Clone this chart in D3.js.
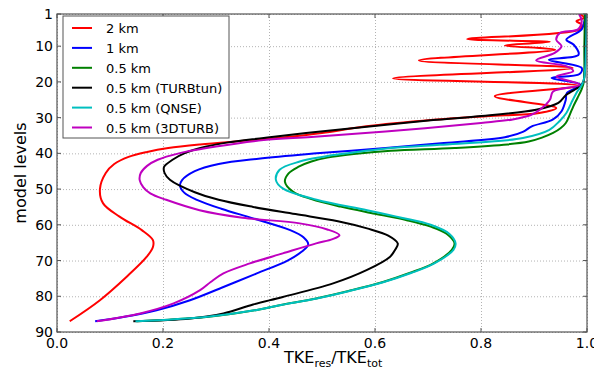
<!DOCTYPE html>
<html lang="en">
  <head>
    <meta charset="UTF-8" />
    <title>TKE ratio vs model level</title>
    <script src="https://d3js.org/d3.v7.min.js"></script>
    <style>
      body { margin: 0; background: #fff; }
      text { font-family: "DejaVu Sans", sans-serif; }
      .line { fill: none; stroke-width: 2px; stroke-linejoin: round; }
      .grid line { stroke: #a0a0a0; stroke-dasharray: 1,2; stroke-width: 0.8px; }
      .grid path { display: none; }
      .tick-lab { font-size: 14px; fill: #000; }
    </style>
  </head>
  <body>
    <svg id="chart" width="594" height="371"></svg>
    <script>
      // model level -> TKE_res/TKE_tot
      const lev2km = [1, 2, 3, 4, 5.3, 8, 8.8, 9.8, 11, 14, 16.1, 19, 21.1, 24, 27.3, 28.7, 29.6, 30.6, 32.5, 34.3, 35.5, 36.4, 37.5, 38.5, 39.6, 41, 43, 45.5, 50, 54, 57.7, 61.5, 64.3, 66.2, 69, 74.6, 81.1, 87];
      const tke2km = [0.985, 0.995, 0.98, 0.99, 0.986, 0.774, 0.93, 0.845, 0.94, 0.683, 0.973, 0.634, 0.986, 0.826, 0.942, 0.91, 0.81, 0.71, 0.58, 0.5, 0.43, 0.36, 0.27, 0.21, 0.17, 0.135, 0.108, 0.092, 0.081, 0.087, 0.118, 0.16, 0.181, 0.181, 0.169, 0.131, 0.081, 0.024];

      const lev1km = [1, 3, 5.3, 8.2, 9.6, 12.4, 13.8, 16.1, 17.8, 18.9, 20.8, 23.1, 25, 28.2, 30.5, 32.5, 33.9, 35.5, 37.1, 38.5, 40, 41.5, 43, 45, 47.5, 49, 51, 53, 55.5, 58.2, 61.5, 63.5, 65.5, 67.5, 70, 73.6, 77.4, 81.1, 83.9, 85.8, 87];
      const tke1km = [0.998, 0.995, 0.99, 0.961, 0.975, 0.984, 0.928, 0.99, 0.986, 0.933, 0.988, 0.962, 0.96, 0.952, 0.936, 0.895, 0.88, 0.845, 0.73, 0.62, 0.49, 0.38, 0.305, 0.26, 0.236, 0.232, 0.24, 0.264, 0.31, 0.37, 0.44, 0.465, 0.474, 0.462, 0.435, 0.377, 0.314, 0.251, 0.188, 0.125, 0.072];

      const lev05 = [1, 10, 20, 22, 24.5, 26.9, 29, 31.5, 33, 34.3, 35.6, 36.7, 37.5, 38.5, 39.3, 40.2, 41.2, 42.3, 43.8, 45.6, 47.9, 50.7, 52.8, 54.9, 56.9, 58.7, 60.5, 62.5, 65.2, 67, 70.8, 73.5, 76, 78.5, 80.6, 82.5, 84, 85.8, 87];
      const tke05 = [0.996, 0.995, 0.994, 0.99, 0.982, 0.974, 0.968, 0.96, 0.95, 0.936, 0.915, 0.89, 0.85, 0.75, 0.63, 0.56, 0.51, 0.48, 0.455, 0.437, 0.43, 0.445, 0.48, 0.535, 0.6, 0.66, 0.705, 0.735, 0.75, 0.745, 0.71, 0.665, 0.615, 0.55, 0.489, 0.42, 0.37, 0.282, 0.15];

      const levTurb = [1, 10, 20, 21.3, 23.6, 25.9, 27.8, 29.7, 30.7, 32.6, 34.3, 35.7, 37, 38.1, 40, 41.8, 43.8, 45.5, 47.4, 50.9, 53, 55, 57, 59, 61, 63, 65.2, 67, 69, 72.7, 76.4, 80.2, 82.3, 84.8, 86.2, 87];
      const tkeTurb = [0.998, 0.997, 0.993, 0.986, 0.961, 0.946, 0.904, 0.79, 0.71, 0.58, 0.47, 0.39, 0.32, 0.282, 0.24, 0.218, 0.202, 0.203, 0.213, 0.26, 0.305, 0.37, 0.45, 0.53, 0.585, 0.625, 0.643, 0.638, 0.628, 0.584, 0.521, 0.426, 0.37, 0.314, 0.251, 0.144];

      const levQnse = [1, 10, 20, 23.1, 26, 28.7, 31, 33.4, 35.7, 36.7, 37.6, 38.5, 39.9, 41, 42.3, 44.6, 47.4, 49.8, 53, 55.9, 58, 60, 62.5, 65.2, 67, 70.8, 73.5, 76, 78.5, 80.6, 82.5, 84, 85.8, 87];
      const tkeQnse = [0.999, 0.998, 0.993, 0.98, 0.97, 0.961, 0.948, 0.929, 0.879, 0.82, 0.722, 0.63, 0.552, 0.5, 0.458, 0.42, 0.413, 0.426, 0.49, 0.585, 0.65, 0.705, 0.74, 0.752, 0.748, 0.712, 0.668, 0.617, 0.552, 0.49, 0.42, 0.37, 0.28, 0.148];

      const lev3d = [1, 3, 5.3, 6.3, 8.2, 10, 11.9, 14, 15.6, 17, 18.5, 20.8, 22.7, 25, 27.8, 29.2, 30.5, 31.5, 33.9, 35.4, 36.3, 38.1, 40, 41.8, 43.5, 45.5, 47.5, 49.5, 51.2, 53, 55.9, 58, 59.6, 61.3, 62.9, 64, 65.2, 68, 70.8, 73.6, 76, 78.3, 82, 84.8, 87];
      const tke3d = [0.985, 0.99, 0.983, 0.949, 0.942, 0.952, 0.939, 0.904, 0.961, 0.974, 0.942, 0.986, 0.936, 0.93, 0.911, 0.895, 0.86, 0.8, 0.62, 0.48, 0.39, 0.3, 0.23, 0.19, 0.17, 0.158, 0.156, 0.163, 0.176, 0.206, 0.269, 0.35, 0.458, 0.51, 0.533, 0.52, 0.489, 0.426, 0.364, 0.314, 0.29, 0.27, 0.22, 0.157, 0.075];

      const seriesNames = ["2 km", "1 km", "0.5 km", "0.5 km (TURBtun)", "0.5 km (QNSE)", "0.5 km (3DTURB)"];
      const seriesColors = ["#ff0000", "#0000ff", "#008000", "#000000", "#00bfbf", "#bf00bf"];
      const seriesLevels = [lev2km, lev1km, lev05, levTurb, levQnse, lev3d];
      const seriesValues = [tke2km, tke1km, tke05, tkeTurb, tkeQnse, tke3d];

      const xTicks = [0, 0.2, 0.4, 0.6, 0.8, 1.0];
      const yTicks = [1, 10, 20, 30, 40, 50, 60, 70, 80, 90];

      const svg = d3.select("#chart"),
        width = +svg.attr("width"),
        height = +svg.attr("height"),
        margin = { top: 14, right: 7, bottom: 39, left: 57 },
        chartWidth = width - margin.left - margin.right,
        chartHeight = height - margin.top - margin.bottom;

      const chartArea = svg
        .append("g")
        .attr("transform", `translate(${margin.left},${margin.top})`);

      const xScale = d3.scaleLinear().domain([0, 1]).range([0, chartWidth]);
      const yScale = d3.scaleLinear().domain([1, 90]).range([0, chartHeight]);

      // dotted grid
      chartArea
        .append("g")
        .attr("class", "grid")
        .call(d3.axisBottom(xScale).tickValues(xTicks).tickSize(chartHeight).tickFormat(""));
      chartArea
        .append("g")
        .attr("class", "grid")
        .call(d3.axisLeft(yScale).tickValues(yTicks).tickSize(-chartWidth).tickFormat(""));

      svg
        .append("clipPath")
        .attr("id", "clip")
        .append("rect")
        .attr("width", chartWidth)
        .attr("height", chartHeight);

      const line = d3
        .line()
        .x((d) => xScale(d[1]))
        .y((d) => yScale(d[0]))
        .curve(d3.curveCatmullRom.alpha(0.5));

      const plot = chartArea.append("g").attr("clip-path", "url(#clip)");
      seriesNames.forEach((name, i) => {
        const pts = seriesLevels[i].map((l, j) => [l, seriesValues[i][j]]);
        plot
          .append("path")
          .datum(pts)
          .attr("class", "line")
          .attr("stroke", seriesColors[i])
          .attr("d", line);
      });

      // frame
      chartArea
        .append("rect")
        .attr("width", chartWidth)
        .attr("height", chartHeight)
        .attr("fill", "none")
        .attr("stroke", "#555")
        .attr("stroke-width", 1.2);

      // inward ticks on all sides
      const tickG = chartArea.append("g").attr("stroke", "#555").attr("stroke-width", 1);
      xTicks.forEach((t) => {
        tickG.append("line").attr("x1", xScale(t)).attr("x2", xScale(t)).attr("y1", chartHeight).attr("y2", chartHeight - 4);
        tickG.append("line").attr("x1", xScale(t)).attr("x2", xScale(t)).attr("y1", 0).attr("y2", 4);
      });
      yTicks.forEach((t) => {
        tickG.append("line").attr("y1", yScale(t)).attr("y2", yScale(t)).attr("x1", 0).attr("x2", 4);
        tickG.append("line").attr("y1", yScale(t)).attr("y2", yScale(t)).attr("x1", chartWidth).attr("x2", chartWidth - 4);
      });

      chartArea
        .selectAll(".xlab")
        .data(xTicks)
        .enter()
        .append("text")
        .attr("class", "tick-lab")
        .attr("x", (d) => xScale(d))
        .attr("y", chartHeight + 16)
        .attr("text-anchor", "middle")
        .text((d) => d3.format(".1f")(d));

      chartArea
        .selectAll(".ylab")
        .data(yTicks)
        .enter()
        .append("text")
        .attr("class", "tick-lab")
        .attr("x", -4)
        .attr("y", (d) => yScale(d) + 5)
        .attr("text-anchor", "end")
        .text((d) => d);

      // axis titles
      const xTitle = svg
        .append("text")
        .attr("x", 284)
        .attr("y", 363)
        .style("font-size", "16px");
      xTitle.append("tspan").text("TKE");
      xTitle.append("tspan").attr("dy", 4).style("font-size", "11px").text("res");
      xTitle.append("tspan").attr("dy", -4).text("/TKE");
      xTitle.append("tspan").attr("dy", 4).style("font-size", "11px").text("tot");

      svg
        .append("text")
        .attr("transform", "rotate(-90)")
        .attr("x", -(margin.top + chartHeight / 2))
        .attr("y", 26)
        .attr("text-anchor", "middle")
        .style("font-size", "16px")
        .text("model levels");

      // legend
      const legend = svg.append("g").attr("transform", "translate(63,16)");
      legend
        .append("rect")
        .attr("width", 166)
        .attr("height", 122)
        .attr("fill", "#fff")
        .attr("stroke", "#555")
        .attr("stroke-width", 1);

      legend
        .selectAll("line.key")
        .data(seriesNames)
        .enter()
        .append("line")
        .attr("x1", 9)
        .attr("x2", 29)
        .attr("y1", (d, i) => 12 + i * 19.9)
        .attr("y2", (d, i) => 12 + i * 19.9)
        .attr("stroke", (d, i) => seriesColors[i])
        .attr("stroke-width", 2);

      legend
        .selectAll("text.key")
        .data(seriesNames)
        .enter()
        .append("text")
        .attr("x", 43)
        .attr("y", (d, i) => 12 + i * 19.9 + 5)
        .style("font-size", "13px")
        .text((d) => d);
    </script>
</body>
</html>
